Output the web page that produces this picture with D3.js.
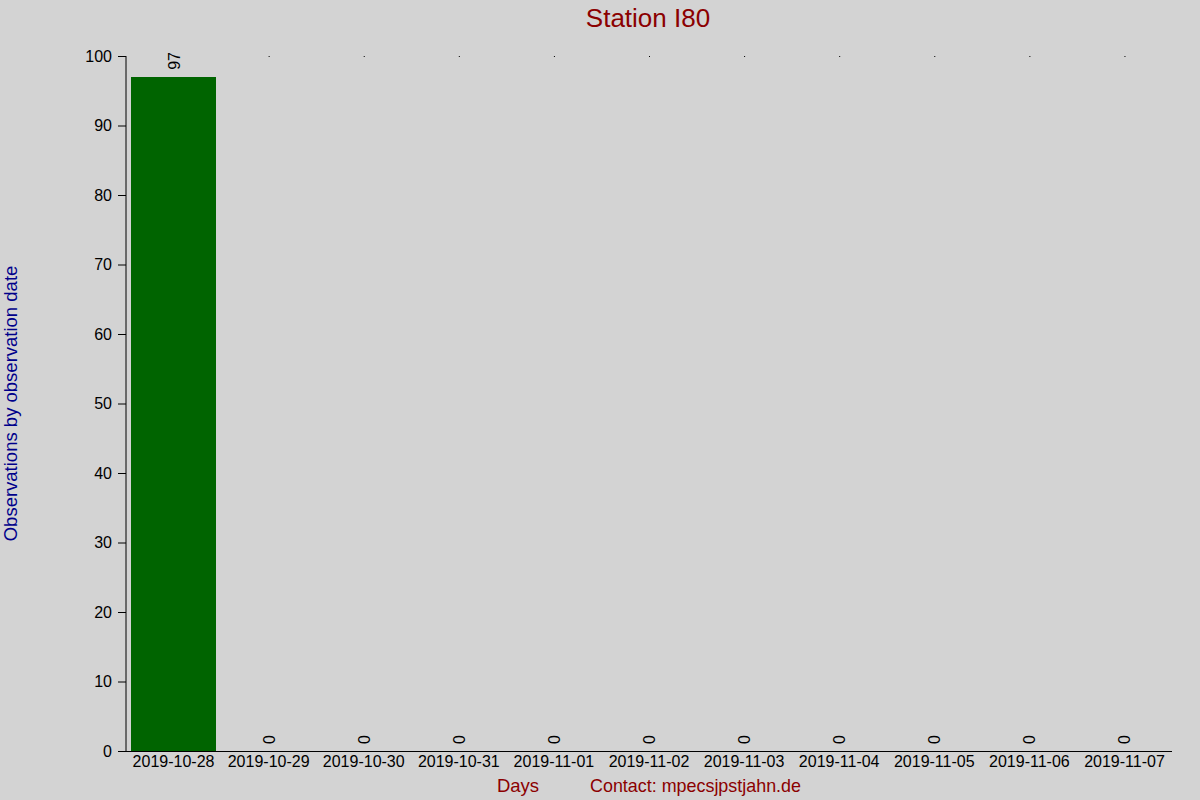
<!DOCTYPE html>
<html>
<head>
<meta charset="utf-8">
<script src="https://cdn.jsdelivr.net/npm/d3@7"></script>
<style>
  html, body { margin: 0; padding: 0; background: #d3d3d3; }
  svg { display: block; font-family: "Liberation Sans", Arial, sans-serif; }
</style>
</head>
<body>
<div id="chart"></div>
<script>
// data
const days = ['2019-10-28', '2019-10-29', '2019-10-30', '2019-10-31', '2019-11-01', '2019-11-02',
  '2019-11-03', '2019-11-04', '2019-11-05', '2019-11-06', '2019-11-07']
const counts = [97, 0, 0, 0, 0, 0, 0, 0, 0, 0, 0]
const yTicks = [0, 10, 20, 30, 40, 50, 60, 70, 80, 90, 100]

const width = 1200
const height = 800
const margin = { top: 56, right: 28, bottom: 49, left: 126 }
const font = 'Liberation Sans, Arial, sans-serif'

const svg = d3.select('#chart').append('svg')
  .attr('width', width)
  .attr('height', height)

svg.append('rect').attr('width', width).attr('height', height).attr('fill', '#d3d3d3')

const x = d3.scaleBand()
  .domain(days)
  .range([margin.left, width - margin.right])
  .paddingInner(0.1)
  .paddingOuter(0.05)

const y = d3.scaleLinear()
  .domain([0, 100])
  .range([height - margin.bottom, margin.top])

// bars
svg.append('g')
  .selectAll('rect')
  .data(counts)
  .join('rect')
  .attr('x', (d, i) => x(days[i]))
  .attr('y', d => y(d))
  .attr('width', x.bandwidth())
  .attr('height', d => y(0) - y(d))
  .attr('fill', '#006400')
  .attr('shape-rendering', 'crispEdges')

// tiny marks at the top of empty days
svg.append('g')
  .selectAll('rect')
  .data(counts.map((d, i) => [days[i], d]).filter(d => d[1] === 0))
  .join('rect')
  .attr('x', d => x(d[0]) + x.bandwidth() / 2)
  .attr('y', y(100))
  .attr('width', 1)
  .attr('height', 1)
  .attr('fill', '#000')

// value labels
svg.append('g')
  .selectAll('text')
  .data(counts)
  .join('text')
  .attr('transform', (d, i) => `translate(${x(days[i]) + x.bandwidth() / 2 + 6},${y(d) - 7}) rotate(-90)`)
  .attr('font-size', 16)
  .attr('fill', '#000')
  .text(d => d)

// y axis
const yAxis = svg.append('g')
  .attr('transform', `translate(${margin.left},0)`)
  .call(d3.axisLeft(y).tickValues(yTicks).tickSize(8).tickSizeOuter(0).tickPadding(6))
yAxis.selectAll('text').attr('font-size', 16).attr('fill', '#000').attr('font-family', font)
yAxis.select('.domain').attr('stroke', '#000')
  .attr('d', `M0,${y(0)}V${y(100)}`)

// x axis
const xAxis = svg.append('g')
  .attr('transform', `translate(0,${y(0)})`)
  .call(d3.axisBottom(x).tickSize(0).tickPadding(5))
xAxis.selectAll('text').attr('font-size', 16).attr('fill', '#000').attr('font-family', font)
xAxis.select('.domain').attr('stroke', '#000')
  .attr('d', `M${margin.left - 8},0.5H${width - margin.right}`)

// titles
svg.append('text')
  .attr('x', 648).attr('y', 27)
  .attr('text-anchor', 'middle')
  .attr('font-size', 26)
  .attr('fill', '#8b0000')
  .text('Station I80')

svg.append('text')
  .attr('transform', `translate(17,${(y(0) + y(100)) / 2}) rotate(-90)`)
  .attr('text-anchor', 'middle')
  .attr('font-size', 18.5)
  .attr('fill', '#00008b')
  .text('Observations by observation date')

svg.append('text')
  .attr('x', 518).attr('y', 792)
  .attr('text-anchor', 'middle')
  .attr('font-size', 18.5)
  .attr('fill', '#8b0000')
  .text('Days')

svg.append('text')
  .attr('x', 590).attr('y', 792)
  .attr('font-size', 18.5)
  .attr('fill', '#8b0000')
  .attr('textLength', 211)
  .attr('lengthAdjust', 'spacingAndGlyphs')
  .text('Contact: mpecsjpstjahn.de')
</script>
</body>
</html>
